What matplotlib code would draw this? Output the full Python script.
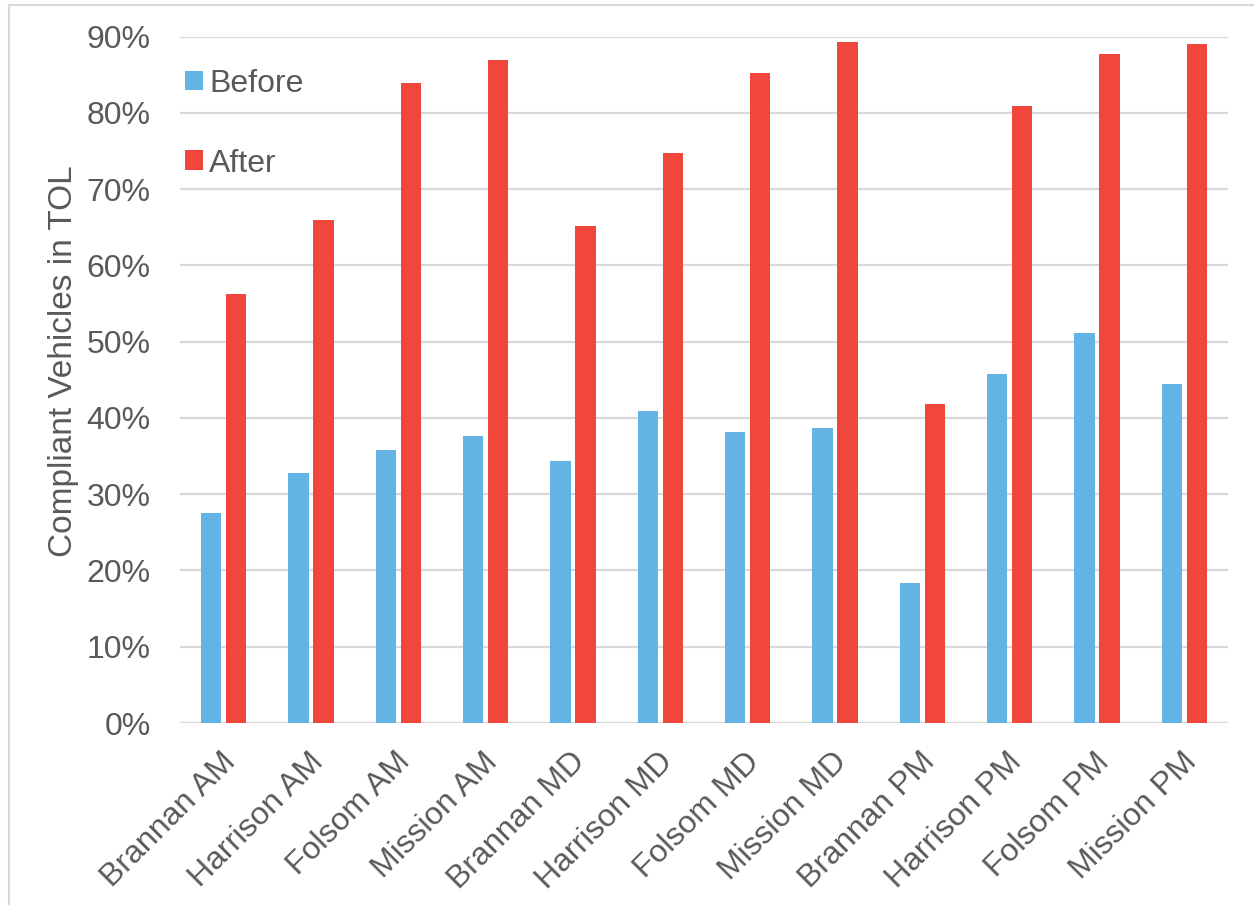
import matplotlib
matplotlib.use("Agg")
import matplotlib.pyplot as plt
from matplotlib.lines import Line2D
from matplotlib.ticker import PercentFormatter, MultipleLocator
import matplotlib.transforms as mtrans
import numpy as np

plt.rcParams['font.family'] = ['Liberation Sans', 'DejaVu Sans']

categories = ["Brannan AM", "Harrison AM", "Folsom AM", "Mission AM",
              "Brannan MD", "Harrison MD", "Folsom MD", "Mission MD",
              "Brannan PM", "Harrison PM", "Folsom PM", "Mission PM"]
before = [27.6, 32.8, 35.8, 37.6, 34.3, 40.9, 38.1, 38.7, 18.3, 45.8, 51.1, 44.4]
after = [56.2, 66.0, 83.9, 87.0, 65.2, 74.8, 85.3, 89.3, 41.8, 80.9, 87.7, 89.0]

blue = "#63B3E5"
red = "#F0463C"
text_col = "#595959"
grid_col = "#D9D9D9"

fig = plt.figure(figsize=(12.54, 9.05), dpi=100)
ax = fig.add_axes([180/1254, 182/905, (1228-180)/1254, (723-36.7)/905])

x = np.arange(len(categories))
w = 0.23
gap = 0.057
ax.bar(x - (w+gap)/2, before, width=w, color=blue, label="Before", zorder=3)
ax.bar(x + (w+gap)/2, after, width=w, color=red, label="After", zorder=3)

ax.set_xlim(-0.5, len(categories)-0.5)
ax.set_ylim(0, 90)
ax.yaxis.set_major_locator(MultipleLocator(10))
ax.yaxis.set_major_formatter(PercentFormatter(decimals=0))
ax.grid(axis='y', color=grid_col, linewidth=1.6, zorder=0)
for s in ax.spines.values():
    s.set_visible(False)
ax.axhline(0, color=grid_col, linewidth=1.6, zorder=2)

ax.tick_params(axis='both', length=0, labelsize=23, colors=text_col)
ax.tick_params(axis='y', pad=21)
ax.set_xticks(x)
ax.set_xticklabels(categories, rotation=45, ha='right', rotation_mode='anchor')
for lbl in ax.get_xticklabels():
    lbl.set_transform(lbl.get_transform() + mtrans.ScaledTranslation(-3/100, -19/100, fig.dpi_scale_trans))

ax.set_ylabel("Compliant Vehicles in TOL", fontsize=24, color=text_col)
ax.yaxis.set_label_coords(64/1254, (905 - 361)/905, transform=fig.transFigure)
ax.yaxis.label.set_va('center')

leg = ax.legend(loc='upper left', bbox_to_anchor=(185/1254, 1-69/905),
                bbox_transform=fig.transFigure, frameon=False, fontsize=23,
                handlelength=0.56, handleheight=0.56, handletextpad=0.2,
                labelspacing=1.55, borderpad=0, borderaxespad=0)
for t in leg.get_texts():
    t.set_color(text_col)

# figure border (top and left visible)
fig.add_artist(Line2D([9/1254, 9/1254], [0, 1-5.5/905], transform=fig.transFigure,
                      color=grid_col, linewidth=1.5))
fig.add_artist(Line2D([9/1254, 1], [1-5.5/905, 1-5.5/905], transform=fig.transFigure,
                      color=grid_col, linewidth=1.5))

fig.savefig("out.png", dpi=100)
